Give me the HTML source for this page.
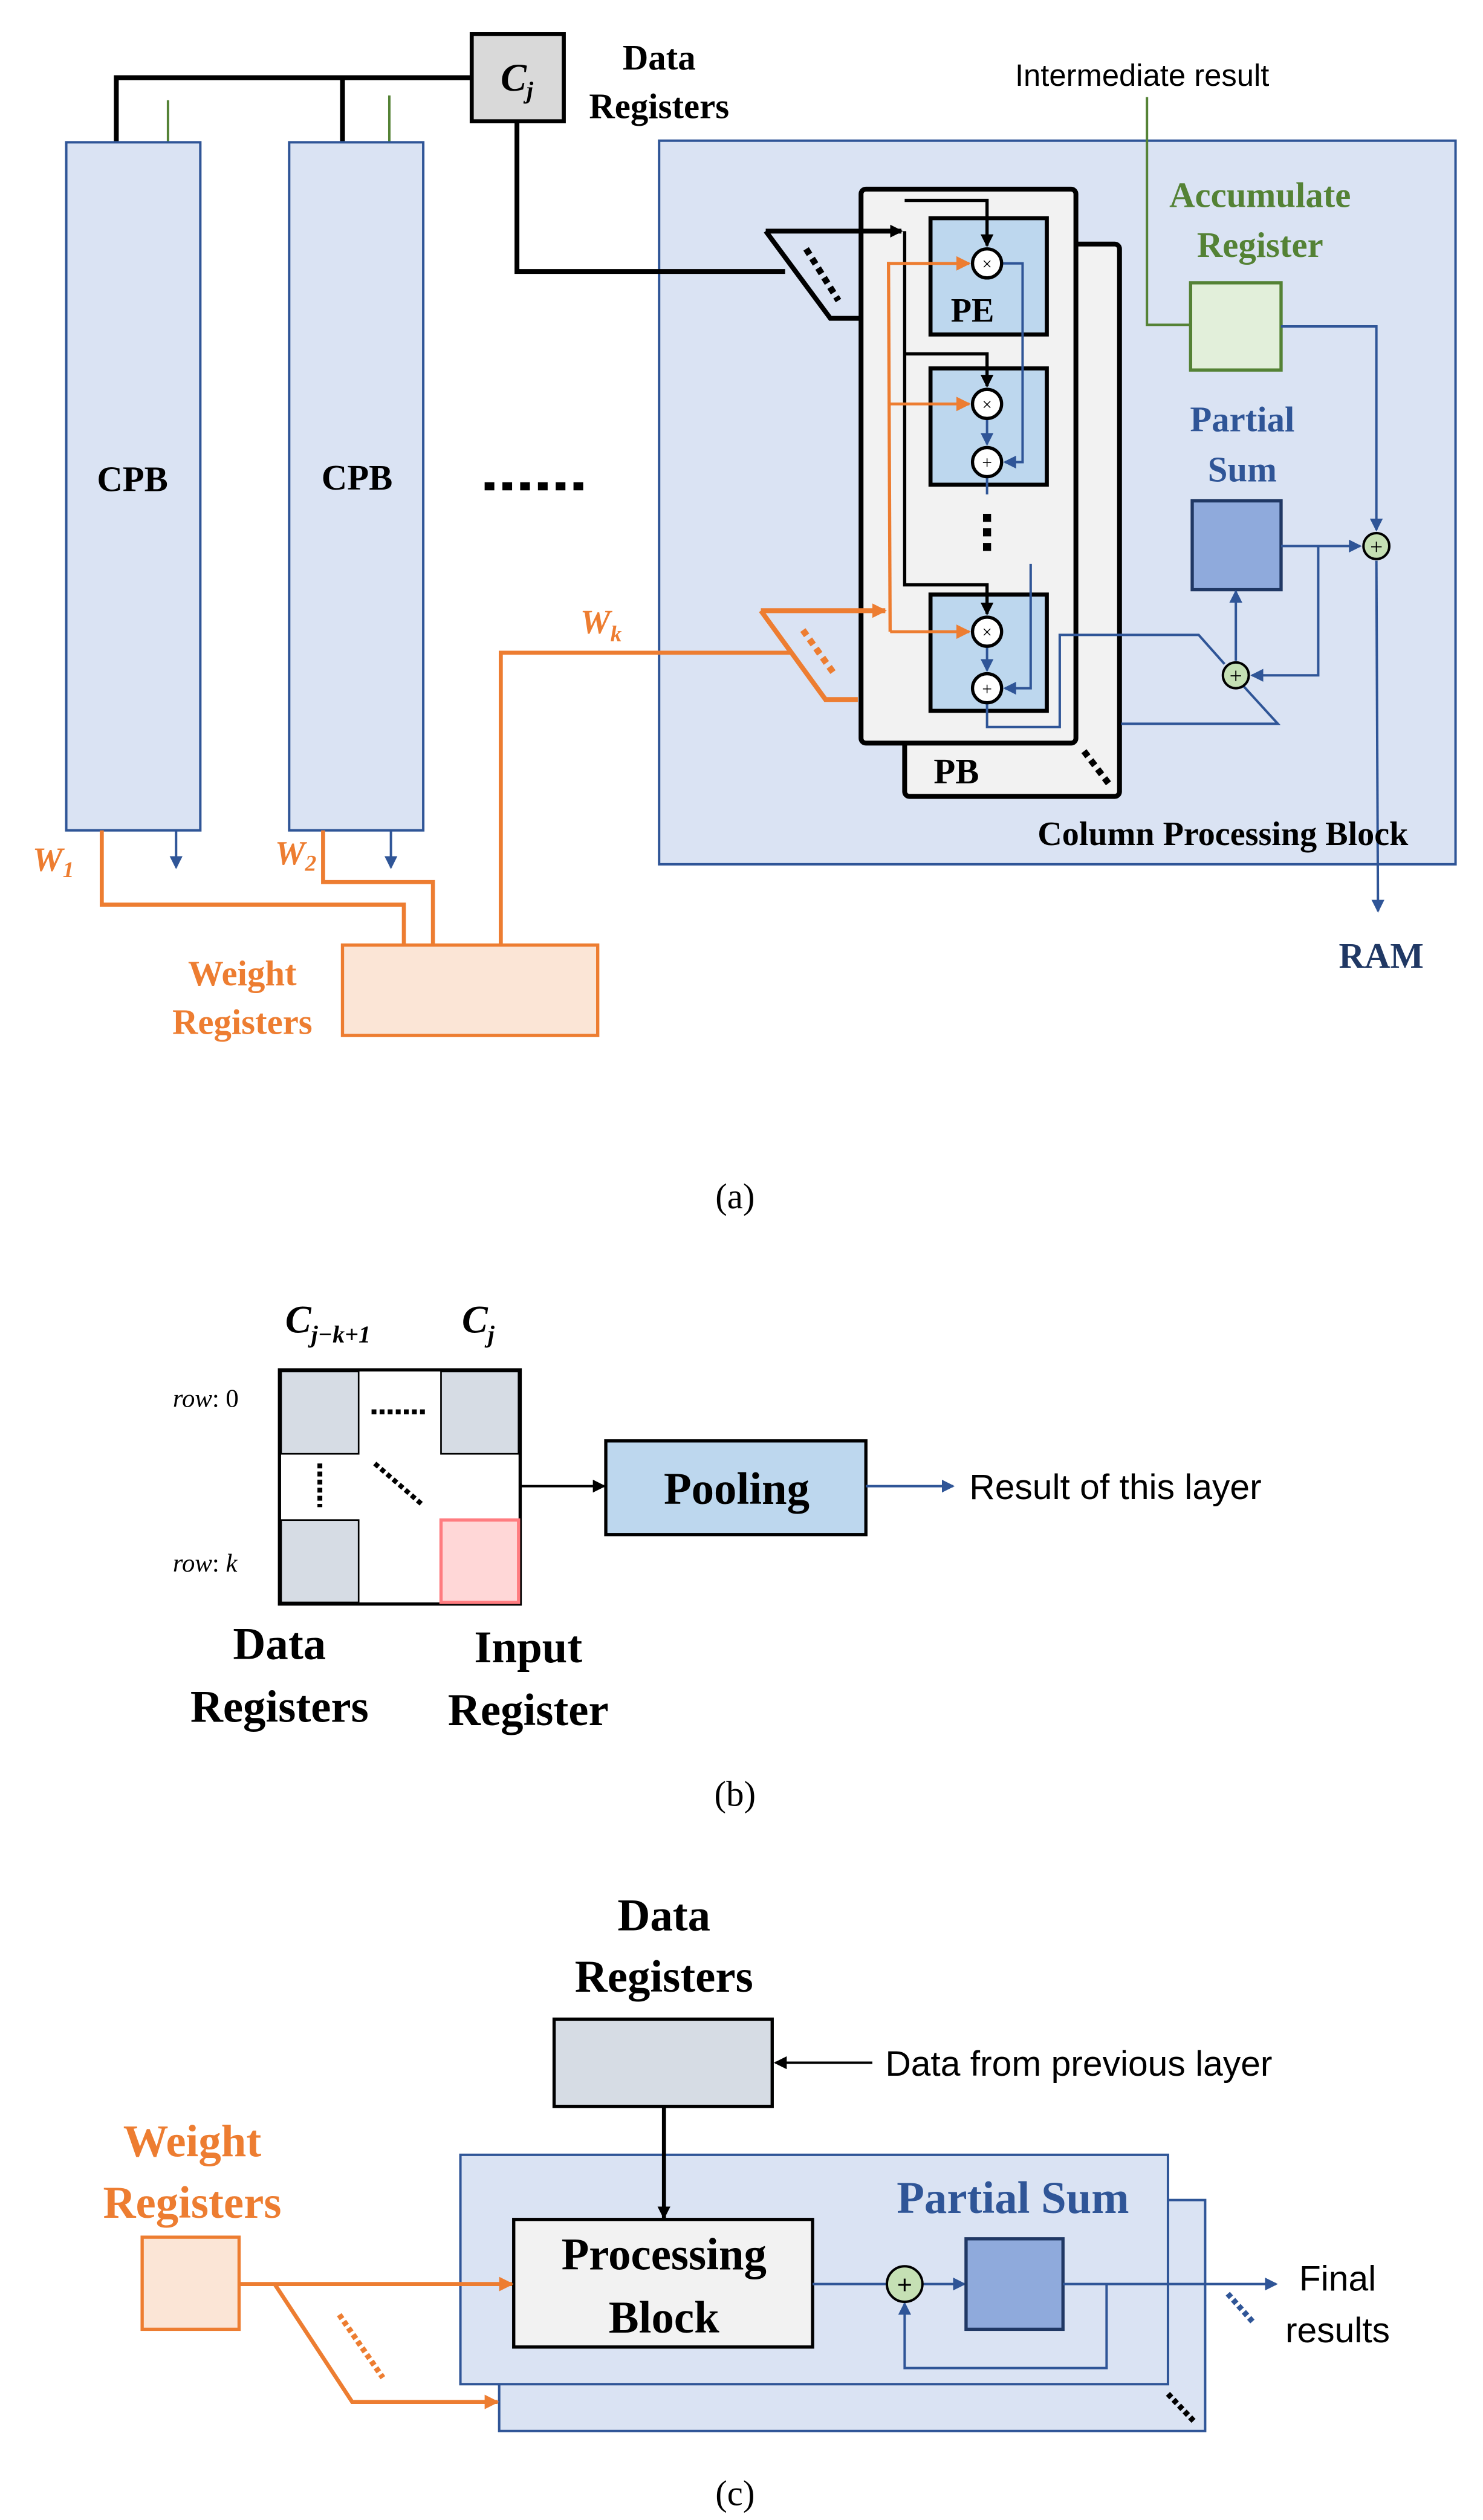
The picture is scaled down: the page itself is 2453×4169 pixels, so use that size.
<!DOCTYPE html>
<html><head><meta charset="utf-8"><style>
html,body{margin:0;padding:0;background:#fff}
svg{display:block}
text{font-family:"Liberation Serif",serif}
.b{font-weight:bold}
.s{font-family:"Liberation Sans",sans-serif}
</style></head><body>
<svg width="2453" height="4169" viewBox="0 0 918 1560" xmlns="http://www.w3.org/2000/svg">
<defs>
<marker id="ak" markerWidth="8" markerHeight="8" refX="7" refY="4" orient="auto" markerUnits="userSpaceOnUse"><path d="M0,0L8,4L0,8z" fill="#000"/></marker>
<marker id="ab" markerWidth="8" markerHeight="8" refX="7" refY="4" orient="auto" markerUnits="userSpaceOnUse"><path d="M0,0L8,4L0,8z" fill="#2f5597"/></marker>
<marker id="ao" markerWidth="9" markerHeight="9" refX="8" refY="4.5" orient="auto" markerUnits="userSpaceOnUse"><path d="M0,0L9,4.5L0,9z" fill="#ed7d31"/></marker>
</defs>
<rect width="918" height="1560" fill="#fff"/>

<!-- (a) -->
<polyline points="72,88 72,48 292,48" fill="none" stroke="#000" stroke-width="3"/>
<line x1="212" y1="48" x2="212" y2="88" stroke="#000" stroke-width="3"/>
<line x1="104" y1="62" x2="104" y2="88" stroke="#548235" stroke-width="1.5"/>
<line x1="241" y1="59" x2="241" y2="88" stroke="#548235" stroke-width="1.5"/>
<rect x="292" y="21" width="57" height="54" fill="#d9d9d9" stroke="#000" stroke-width="2.5"/>
<text x="320" y="56" text-anchor="middle" font-size="24" font-style="italic" class="b">C<tspan font-size="15" dy="5">j</tspan></text>
<text x="408" y="43" text-anchor="middle" font-size="22" class="b">Data</text>
<text x="408" y="73" text-anchor="middle" font-size="22" class="b">Registers</text>

<rect x="41" y="88" width="83" height="426" fill="#dae3f3" stroke="#2f5597" stroke-width="1.5"/>
<rect x="179" y="88" width="83" height="426" fill="#dae3f3" stroke="#2f5597" stroke-width="1.5"/>
<text x="82" y="304" text-anchor="middle" font-size="22" class="b">CPB</text>
<text x="221" y="303" text-anchor="middle" font-size="22" class="b">CPB</text>
<line x1="300" y1="301" x2="366" y2="301" stroke="#000" stroke-width="5" stroke-dasharray="6,5"/>

<rect x="408" y="87" width="493" height="448" fill="#dae3f3" stroke="#2f5597" stroke-width="1.5"/>

<!-- Cj line -->
<polyline points="320,75 320,168 486,168" fill="none" stroke="#000" stroke-width="3"/>
<!-- PB back/front -->
<rect x="560" y="151" width="133" height="342" rx="3" fill="#f2f2f2" stroke="#000" stroke-width="3"/>
<rect x="533" y="117" width="133" height="343" rx="3" fill="#f2f2f2" stroke="#000" stroke-width="3"/>
<text x="592" y="485" text-anchor="middle" font-size="22" class="b">PB</text>
<line x1="671" y1="465" x2="687" y2="486" stroke="#000" stroke-width="4" stroke-dasharray="4,3"/>
<!-- black mux -->
<polyline points="474,143 514,197 533,197" fill="none" stroke="#000" stroke-width="3"/>
<line x1="474" y1="143" x2="558" y2="143" stroke="#000" stroke-width="3" marker-end="url(#ak)"/>
<line x1="499" y1="154" x2="519" y2="186" stroke="#000" stroke-width="4" stroke-dasharray="4,3"/>
<!-- PE boxes -->
<rect x="576" y="135" width="72" height="72" fill="#bdd7ee" stroke="#000" stroke-width="2.5"/>
<rect x="576" y="228" width="72" height="72" fill="#bdd7ee" stroke="#000" stroke-width="2.5"/>
<rect x="576" y="368" width="72" height="72" fill="#bdd7ee" stroke="#000" stroke-width="2.5"/>
<text x="602" y="199" text-anchor="middle" font-size="21" class="b">PE</text>
<!-- black inner -->
<polyline points="560,143 560,362 611,362 611,380" fill="none" stroke="#000" stroke-width="2" marker-end="url(#ak)"/>
<polyline points="560,124 611,124 611,152" fill="none" stroke="#000" stroke-width="2" marker-end="url(#ak)"/>
<polyline points="560,219 611,219 611,239" fill="none" stroke="#000" stroke-width="2" marker-end="url(#ak)"/>
<!-- orange inner -->
<polyline points="550,162 551,391" fill="none" stroke="#ed7d31" stroke-width="2"/>
<line x1="550" y1="163" x2="600" y2="163" stroke="#ed7d31" stroke-width="1.8" marker-end="url(#ao)"/>
<line x1="550" y1="250" x2="600" y2="250" stroke="#ed7d31" stroke-width="1.8" marker-end="url(#ao)"/>
<line x1="551" y1="391" x2="600" y2="391" stroke="#ed7d31" stroke-width="1.8" marker-end="url(#ao)"/>
<!-- blue inner -->
<polyline points="620,163 633,163 633,286 622,286" fill="none" stroke="#2f5597" stroke-width="1.5" marker-end="url(#ab)"/>
<line x1="611" y1="259" x2="611" y2="275" stroke="#2f5597" stroke-width="1.5" marker-end="url(#ab)"/>
<line x1="611" y1="295" x2="611" y2="306" stroke="#2f5597" stroke-width="1.5"/>
<line x1="611" y1="318" x2="611" y2="344" stroke="#000" stroke-width="5" stroke-dasharray="5,4"/>
<polyline points="638,349 638,426 622,426" fill="none" stroke="#2f5597" stroke-width="1.5" marker-end="url(#ab)"/>
<line x1="611" y1="400" x2="611" y2="415" stroke="#2f5597" stroke-width="1.5" marker-end="url(#ab)"/>
<polyline points="611,435 611,450 656,450 656,393 742,393 758,411" fill="none" stroke="#2f5597" stroke-width="1.5"/>
<polyline points="694,448 791,448 770,425" fill="none" stroke="#2f5597" stroke-width="1.5"/>
<g fill="#fff" stroke="#000" stroke-width="2">
<circle cx="611" cy="163" r="9"/><circle cx="611" cy="250" r="9"/><circle cx="611" cy="286" r="9"/><circle cx="611" cy="391" r="9"/><circle cx="611" cy="426" r="9"/>
</g>
<g font-size="11" text-anchor="middle" class="s">
<text x="611" y="167">×</text><text x="611" y="254">×</text><text x="611" y="290">+</text><text x="611" y="395">×</text><text x="611" y="430">+</text>
</g>
<!-- orange mux -->
<polyline points="310,585 310,404 490,404" fill="none" stroke="#ed7d31" stroke-width="2.5"/>
<polyline points="471,378 511,433 531,433" fill="none" stroke="#ed7d31" stroke-width="3"/>
<line x1="471" y1="378" x2="548" y2="378" stroke="#ed7d31" stroke-width="3" marker-end="url(#ao)"/>
<line x1="497" y1="390" x2="517" y2="418" stroke="#ed7d31" stroke-width="4" stroke-dasharray="4,3"/>
<text x="372" y="392" text-anchor="middle" font-size="21" font-style="italic" class="b" fill="#ed7d31">W<tspan font-size="14" dy="5">k</tspan></text>
<!-- accum / partial sum -->
<polyline points="710,60 710,201 737,201" fill="none" stroke="#548235" stroke-width="1.5"/>
<text x="707" y="53" text-anchor="middle" font-size="19" class="s">Intermediate result</text>
<text x="780" y="128" text-anchor="middle" font-size="22" class="b" fill="#548235">Accumulate</text>
<text x="780" y="159" text-anchor="middle" font-size="22" class="b" fill="#548235">Register</text>
<rect x="737" y="175" width="56" height="54" fill="#e2efda" stroke="#548235" stroke-width="2"/>
<polyline points="793,202 852,202 852,328" fill="none" stroke="#2f5597" stroke-width="1.5" marker-end="url(#ab)"/>
<text x="769" y="267" text-anchor="middle" font-size="22" class="b" fill="#2f5597">Partial</text>
<text x="769" y="298" text-anchor="middle" font-size="22" class="b" fill="#2f5597">Sum</text>
<rect x="738" y="310" width="55" height="55" fill="#8faadc" stroke="#203864" stroke-width="2"/>
<line x1="793" y1="338" x2="842" y2="338" stroke="#2f5597" stroke-width="1.5" marker-end="url(#ab)"/>
<polyline points="816,338 816,418 775,418" fill="none" stroke="#2f5597" stroke-width="1.5" marker-end="url(#ab)"/>
<line x1="765" y1="409" x2="765" y2="366" stroke="#2f5597" stroke-width="1.5" marker-end="url(#ab)"/>
<line x1="852" y1="347" x2="853" y2="564" stroke="#2f5597" stroke-width="1.5" marker-end="url(#ab)"/>
<g fill="#c5e0b4" stroke="#000" stroke-width="1.5"><circle cx="765" cy="418" r="8"/><circle cx="852" cy="338" r="8"/></g>
<g font-size="14" text-anchor="middle" class="s"><text x="765" y="423">+</text><text x="852" y="343">+</text></g>
<text x="757" y="523" text-anchor="middle" font-size="21" class="b">Column Processing Block</text>
<text x="855" y="599" text-anchor="middle" font-size="22" class="b" fill="#203864">RAM</text>
<!-- weights -->
<polyline points="63,514 63,560 250,560 250,585" fill="none" stroke="#ed7d31" stroke-width="2.5"/>
<polyline points="200,514 200,546 268,546 268,585" fill="none" stroke="#ed7d31" stroke-width="2.5"/>
<line x1="109" y1="514" x2="109" y2="537" stroke="#2f5597" stroke-width="1.5" marker-end="url(#ab)"/>
<line x1="242" y1="514" x2="242" y2="537" stroke="#2f5597" stroke-width="1.5" marker-end="url(#ab)"/>
<text x="33" y="539" text-anchor="middle" font-size="21" font-style="italic" class="b" fill="#ed7d31">W<tspan font-size="14" dy="4">1</tspan></text>
<text x="183" y="535" text-anchor="middle" font-size="21" font-style="italic" class="b" fill="#ed7d31">W<tspan font-size="14" dy="4">2</tspan></text>
<rect x="212" y="585" width="158" height="56" fill="#fbe5d6" stroke="#ed7d31" stroke-width="2"/>
<text x="150" y="610" text-anchor="middle" font-size="22" class="b" fill="#ed7d31">Weight</text>
<text x="150" y="640" text-anchor="middle" font-size="22" class="b" fill="#ed7d31">Registers</text>
<text x="455" y="748" text-anchor="middle" font-size="22">(a)</text>

<!-- (b) -->
<text x="203" y="825" text-anchor="middle" font-size="24" font-style="italic" class="b">C<tspan font-size="15" dy="6">j−k+1</tspan></text>
<text x="296" y="825" text-anchor="middle" font-size="24" font-style="italic" class="b">C<tspan font-size="15" dy="6">j</tspan></text>
<text x="107" y="871" font-size="16" font-style="italic">row<tspan font-style="normal">: 0</tspan></text>
<text x="107" y="973" font-size="16" font-style="italic">row<tspan font-style="normal">: </tspan>k</text>
<rect x="173" y="848" width="149" height="145" fill="#fff" stroke="#000" stroke-width="2"/>
<rect x="174" y="849" width="48" height="51" fill="#d6dce4" stroke="#000" stroke-width="1"/>
<rect x="273" y="849" width="48" height="51" fill="#d6dce4" stroke="#000" stroke-width="1"/>
<rect x="174" y="941" width="48" height="51" fill="#d6dce4" stroke="#000" stroke-width="1"/>
<rect x="273" y="941" width="48" height="51" fill="#ffd7d7" stroke="#ff7c80" stroke-width="2"/>
<line x1="230" y1="874" x2="264" y2="874" stroke="#000" stroke-width="3" stroke-dasharray="3,2"/>
<line x1="198" y1="906" x2="198" y2="933" stroke="#000" stroke-width="3" stroke-dasharray="3,2"/>
<line x1="232" y1="906" x2="262" y2="932" stroke="#000" stroke-width="3" stroke-dasharray="3,2"/>
<line x1="322" y1="920" x2="374" y2="920" stroke="#000" stroke-width="1.5" marker-end="url(#ak)"/>
<rect x="375" y="892" width="161" height="58" fill="#bdd7ee" stroke="#000" stroke-width="2"/>
<text x="456" y="931" text-anchor="middle" font-size="28" class="b">Pooling</text>
<line x1="536" y1="920" x2="590" y2="920" stroke="#2f5597" stroke-width="1.5" marker-end="url(#ab)"/>
<text x="600" y="928" font-size="22" class="s">Result of this layer</text>
<text x="173" y="1027" text-anchor="middle" font-size="28" class="b">Data</text>
<text x="173" y="1066" text-anchor="middle" font-size="28" class="b">Registers</text>
<text x="327" y="1029" text-anchor="middle" font-size="28" class="b">Input</text>
<text x="327" y="1068" text-anchor="middle" font-size="28" class="b">Register</text>
<text x="455" y="1118" text-anchor="middle" font-size="22">(b)</text>

<!-- (c) -->
<text x="411" y="1195" text-anchor="middle" font-size="28" class="b">Data</text>
<text x="411" y="1233" text-anchor="middle" font-size="28" class="b">Registers</text>
<rect x="343" y="1250" width="135" height="54" fill="#d6dce4" stroke="#000" stroke-width="2"/>
<line x1="540" y1="1277" x2="480" y2="1277" stroke="#000" stroke-width="1.5" marker-end="url(#ak)"/>
<text x="548" y="1285" font-size="22" class="s">Data from previous layer</text>
<rect x="309" y="1362" width="437" height="143" fill="#dae3f3" stroke="#2f5597" stroke-width="1.5"/>
<rect x="285" y="1334" width="438" height="142" fill="#dae3f3" stroke="#2f5597" stroke-width="1.5"/>
<line x1="411" y1="1304" x2="411" y2="1373" stroke="#000" stroke-width="2.5" marker-end="url(#ak)"/>
<text x="627" y="1370" text-anchor="middle" font-size="28" class="b" fill="#2f5597">Partial Sum</text>
<rect x="318" y="1374" width="185" height="79" fill="#f2f2f2" stroke="#000" stroke-width="2"/>
<text x="411" y="1405" text-anchor="middle" font-size="28" class="b">Processing</text>
<text x="411" y="1444" text-anchor="middle" font-size="28" class="b">Block</text>
<line x1="503" y1="1414" x2="549" y2="1414" stroke="#2f5597" stroke-width="1.5"/>
<line x1="571" y1="1414" x2="597" y2="1414" stroke="#2f5597" stroke-width="1.5" marker-end="url(#ab)"/>
<rect x="598" y="1386" width="60" height="56" fill="#8faadc" stroke="#203864" stroke-width="2"/>
<line x1="658" y1="1414" x2="790" y2="1414" stroke="#2f5597" stroke-width="1.5" marker-end="url(#ab)"/>
<polyline points="685,1414 685,1466 560,1466 560,1426" fill="none" stroke="#2f5597" stroke-width="1.5" marker-end="url(#ab)"/>
<circle cx="560" cy="1414" r="11" fill="#c5e0b4" stroke="#000" stroke-width="1.5"/>
<text x="560" y="1420" text-anchor="middle" font-size="16" class="s">+</text>
<line x1="760" y1="1420" x2="776" y2="1438" stroke="#2f5597" stroke-width="3.5" stroke-dasharray="3,2"/>
<line x1="723" y1="1482" x2="740" y2="1500" stroke="#000" stroke-width="3.5" stroke-dasharray="3,2"/>
<text x="828" y="1418" text-anchor="middle" font-size="22" class="s">Final</text>
<text x="828" y="1450" text-anchor="middle" font-size="22" class="s">results</text>
<text x="119" y="1335" text-anchor="middle" font-size="28" class="b" fill="#ed7d31">Weight</text>
<text x="119" y="1373" text-anchor="middle" font-size="28" class="b" fill="#ed7d31">Registers</text>
<rect x="88" y="1385" width="60" height="57" fill="#fbe5d6" stroke="#ed7d31" stroke-width="2"/>
<line x1="148" y1="1414" x2="317" y2="1414" stroke="#ed7d31" stroke-width="2.5" marker-end="url(#ao)"/>
<polyline points="170,1414 218,1487 308,1487" fill="none" stroke="#ed7d31" stroke-width="2.5" marker-end="url(#ao)"/>
<line x1="210" y1="1433" x2="237" y2="1472" stroke="#ed7d31" stroke-width="3.5" stroke-dasharray="3,2"/>
<text x="455" y="1551" text-anchor="middle" font-size="22">(c)</text>
</svg>
</body></html>
